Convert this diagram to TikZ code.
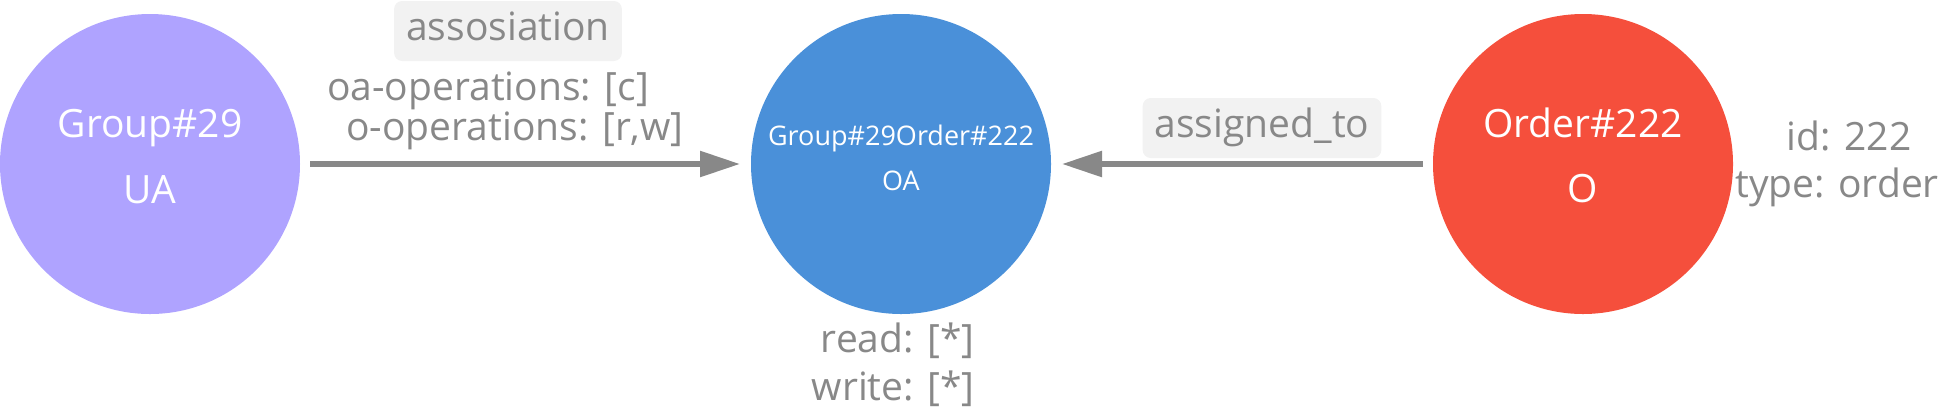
\documentclass[tikz,border=0pt]{standalone}
\usepackage{fontspec}
\setmainfont{Open Sans}
\usetikzlibrary{arrows.meta}
\definecolor{uacol}{RGB}{175,163,255}
\definecolor{oacol}{RGB}{74,144,217}
\definecolor{ocol}{RGB}{245,79,60}
\definecolor{txtgray}{RGB}{136,136,136}
\definecolor{lblbg}{RGB}{242,242,242}
\tikzset{
  entity/.style={circle, inner sep=0pt, outer sep=0pt, minimum size=150pt},
  wtext/.style={text=white, font=\fontsize{19.5}{23}\selectfont, anchor=base, inner sep=0pt},
  wsmall/.style={text=white, font=\fontsize{13.5}{16}\selectfont, anchor=base, inner sep=0pt},
  gtext/.style={text=txtgray, font=\fontsize{19.5}{23}\selectfont, anchor=base, inner sep=0pt},
  rel/.style={draw=txtgray, line width=2.75pt, -{Triangle[length=20pt,width=12.5pt]}, shorten <=5pt, shorten >=5.5pt},
  relbox/.style={fill=lblbg, rounded corners=4pt, text=txtgray, font=\fontsize{19.5}{23}\selectfont,
    inner xsep=6pt, inner ysep=0pt, text height=19.5pt, text depth=10.5pt, anchor=base}
}
\begin{document}
\begin{tikzpicture}[x=0.5pt,y=-0.5pt]
\useasboundingbox (0,0) rectangle (1957,414);
% entities
\node[entity, fill=uacol] (ua) at (150,164) {};
\node[entity, fill=oacol] (oa) at (901,164) {};
\node[entity, fill=ocol] (o) at (1583,164) {};
\node[wtext] (ua1) at (150,137) {Group\#29};
\node[wtext] (ua2) at (150,203) {UA};
\node[wsmall] (oa1) at (901,145) {Group\#29Order\#222};
\node[wsmall] (oa2) at (901,190) {OA};
\node[wtext] (o1) at (1583,137) {Order\#222};
\node[wtext] (o2) at (1583,202) {O};
% relations
\draw[rel] (ua) -- (oa);
\draw[rel] (o) -- (oa);
\node[relbox] (l1) at (508,40) {assosiation};
\node[gtext] (p1) at (488,100) {oa-operations: [c]};
\node[gtext] (p2) at (515,140) {o-operations: [r,w]};
\node[relbox] (l2) at (1262,137) {assigned\_to};
% properties
\node[gtext, anchor=base east] (r1) at (975,352) {read: [*]};
\node[gtext, anchor=base east] (r2) at (975,400) {write: [*]};
\node[gtext] (i1) at (1849,150) {id: 222};
\node[gtext] (i2) at (1837,197) {type: order};
\end{tikzpicture}
\end{document}
